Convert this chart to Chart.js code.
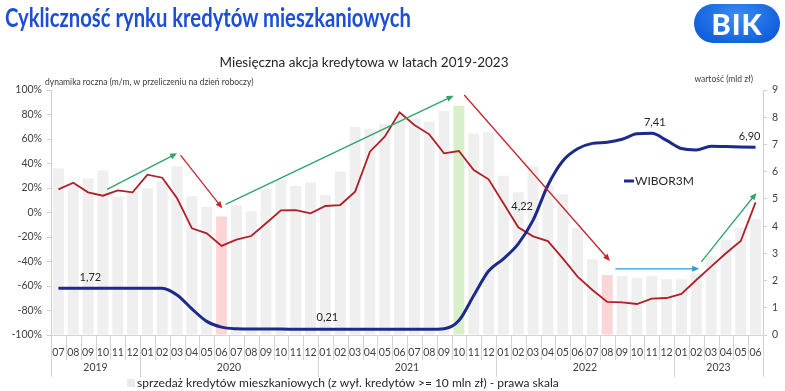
<!DOCTYPE html>
<html>
<head>
<meta charset="utf-8">
<script src="https://cdn.jsdelivr.net/npm/chart.js@4.4.0/dist/chart.umd.min.js"></script>
<style>
  body { margin: 0; background: #fff; width: 785px; height: 391px; overflow: hidden; position: relative; font-family: Lato, sans-serif; }
  #c { position: absolute; left: 0; top: 0; }
  #head { position: absolute; left: 5px; top: 0px; font-weight: bold; font-size: 27px; color: #1c4fd6; white-space: nowrap; transform-origin: 0 0; transform: scaleX(0.75); }
  #logo { position: absolute; left: 694px; top: 4px; width: 86px; height: 39px; border-radius: 20px;
          background: radial-gradient(ellipse at 50% 30%, #3c8cf2 0%, #1463de 70%, #0f55c8 100%);
          color: #fff; font-weight: 900; font-size: 29px; line-height: 39px; text-align: center; letter-spacing: 1px; }
</style>
</head>
<body>
<canvas id="c" width="785" height="391"></canvas>
<div id="head">Cykliczność rynku kredytów mieszkaniowych</div>
<div id="logo">BIK</div>
<script>
// months 2019-07 .. 2023-06
const months = ['07','08','09','10','11','12',
  '01','02','03','04','05','06','07','08','09','10','11','12',
  '01','02','03','04','05','06','07','08','09','10','11','12',
  '01','02','03','04','05','06','07','08','09','10','11','12',
  '01','02','03','04','05','06'];
const years = ['2019','2020','2021','2022','2023'];
const yearSpans = [6, 12, 12, 12, 6];

// sprzedaz kredytow, mld zl (right scale)
const sales = [6.13,5.55,5.76,6.04,5.08,5.27,
  5.39,5.64,6.2,5.1,4.7,4.35,4.77,4.55,5.37,5.7,5.47,5.6,
  5.13,6.0,7.64,7.58,7.75,8.1,7.95,7.83,8.23,8.42,7.4,7.46,
  5.85,5.24,6.2,5.5,5.17,3.92,2.78,2.2,2.17,2.1,2.17,2.05,
  2.05,2.27,2.9,3.5,3.95,4.25];

// dynamika roczna, % (left scale)
const dynamics = [18.9,24.3,16.5,13.7,18.1,16.5,
  30.9,28.4,11.6,-12.9,-17,-27.3,-22.2,-19.2,-8.8,1.8,2,-0.7,
  5.3,6.1,17,49.6,61.9,81.8,71.4,63.8,48.3,50.2,34.7,27.1,
  7.5,-12.1,-19.5,-23.3,-37.4,-52.4,-63.3,-73,-73.3,-74.7,-70.3,-69.8,
  -66.5,-55.1,-44.2,-33.3,-23.3,8.3];

// WIBOR3M, % (right scale)
const wibor = [1.72,1.72,1.72,1.72,1.72,1.72,
  1.72,1.72,1.47,0.96,0.50,0.29,0.23,0.22,0.22,0.22,0.21,0.21,
  0.21,0.21,0.21,0.21,0.21,0.21,0.21,0.21,0.23,0.53,1.45,2.35,
  2.8,3.35,4.22,5.5,6.39,6.84,7.04,7.08,7.19,7.39,7.41,7.15,
  6.85,6.8,6.93,6.92,6.91,6.90];
const wiborLabelIdx = [0, 18, 32, 40, 47];

// trend arrows: [fromIndex, from%, toIndex, to%, colour]
const arrows = [
  [3.28, 18.9, 8.0, 48.3, '#2fa36a'],
  [8.23, 46.9, 11.05, 3.4, '#c3262c'],
  [11.27, 6.7, 26.64, 95.3, '#2fa36a'],
  [27.36, 95.9, 37.18, -39.6, '#c3262c'],
  [37.55, -46.0, 43.2, -46.0, '#2e9be0'],
  [43.34, -40.3, 47.06, 16.0, '#2fa36a']
];

const highlight = {11: '#fcd6d6', 27: '#d9efca', 37: '#fcd6d6'};
const barColors = sales.map((v, i) => highlight[i] || '#efefef');

Chart.defaults.font.family = 'Lato, sans-serif';
Chart.defaults.color = '#404040';

function drawArrow(ctx, x0, y0, x1, y1, color) {
  const a = Math.atan2(y1 - y0, x1 - x0);
  const L = 7, W = 3;
  ctx.save();
  ctx.strokeStyle = color; ctx.fillStyle = color; ctx.lineWidth = 1.3;
  ctx.beginPath();
  ctx.moveTo(x0, y0);
  ctx.lineTo(x1 - Math.cos(a) * L * 0.8, y1 - Math.sin(a) * L * 0.8);
  ctx.stroke();
  ctx.beginPath();
  ctx.moveTo(x1, y1);
  ctx.lineTo(x1 - Math.cos(a) * L - Math.sin(a) * W, y1 - Math.sin(a) * L + Math.cos(a) * W);
  ctx.lineTo(x1 - Math.cos(a) * L + Math.sin(a) * W, y1 - Math.sin(a) * L - Math.cos(a) * W);
  ctx.closePath();
  ctx.fill();
  ctx.restore();
}

const extras = {
  id: 'extras',
  afterDatasetsDraw(chart) {
    const ctx = chart.ctx, x = chart.scales.x, y = chart.scales.y, y2 = chart.scales.y2;
    const area = chart.chartArea;

    arrows.forEach(a => {
      drawArrow(ctx, x.getPixelForValue(a[0]), y.getPixelForValue(a[1]),
        x.getPixelForValue(a[2]), y.getPixelForValue(a[3]), a[4]);
    });

    // wibor value labels
    const offs = {0: [32, -11], 18: [2, -12], 32: [-11, -14], 40: [3, -11], 47: [-6, -11]};
    ctx.save();
    ctx.font = '11px Lato, sans-serif';
    ctx.fillStyle = '#262626';
    ctx.textAlign = 'center'; ctx.textBaseline = 'middle';
    wiborLabelIdx.forEach(i => {
      const px = x.getPixelForValue(i), py = y2.getPixelForValue(wibor[i]);
      ctx.fillText(wibor[i].toFixed(2).replace('.', ','), px + offs[i][0], py + offs[i][1]);
    });
    ctx.restore();

    // separators on category axis
    ctx.save();
    ctx.strokeStyle = '#d4d4d4'; ctx.lineWidth = 1;
    ctx.beginPath();
    ctx.moveTo(area.left, area.bottom + 0.5); ctx.lineTo(area.right, area.bottom + 0.5);
    const yearStarts = [0];
    yearSpans.forEach(s => yearStarts.push(yearStarts[yearStarts.length - 1] + s));
    for (let i = 0; i <= months.length; i++) {
      const px = Math.round(x.getPixelForValue(i - 0.5)) + 0.5;
      const long = yearStarts.includes(i);
      ctx.moveTo(px, area.bottom);
      ctx.lineTo(px, area.bottom + (long ? 42 : 25));
    }
    ctx.stroke();
    ctx.font = '10.5px Lato, sans-serif';
    ctx.fillStyle = '#404040';
    ctx.textAlign = 'center'; ctx.textBaseline = 'middle';
    years.forEach((yr, k) => {
      const mid = x.getPixelForValue((yearStarts[k] + yearStarts[k + 1] - 1) / 2);
      ctx.fillText(yr, mid, area.bottom + 33);
    });
    ctx.restore();
  },
  afterDraw(chart) {
    const ctx = chart.ctx, area = chart.chartArea;
    ctx.save();
    ctx.fillStyle = '#262626';
    ctx.textBaseline = 'middle';
    ctx.font = '13.5px Lato, sans-serif';
    ctx.textAlign = 'center';
    ctx.fillText('Miesięczna akcja kredytowa w latach 2019-2023', 364, 63);
    ctx.font = '8.5px Lato, sans-serif';
    ctx.fillStyle = '#404040';
    ctx.textAlign = 'left';
    ctx.fillText('dynamika roczna (m/m, w przeliczeniu na dzień roboczy)', area.left - 6, 82);
    ctx.textAlign = 'right';
    ctx.fillText('wartość (mld zł)', area.right - 10, 79);

    // legend WIBOR3M
    ctx.strokeStyle = '#1b2a8c'; ctx.lineWidth = 3;
    ctx.beginPath(); ctx.moveTo(624, 181); ctx.lineTo(634, 181); ctx.stroke();
    ctx.font = '12px Lato, sans-serif';
    ctx.fillStyle = '#262626';
    ctx.textAlign = 'left';
    ctx.fillText('WIBOR3M', 635, 181);

    // bottom legend
    ctx.fillStyle = '#eaeaea';
    ctx.fillRect(127, 379, 8, 8);
    ctx.fillStyle = '#262626';
    ctx.font = '12px Lato, sans-serif';
    ctx.fillText('sprzedaż kredytów mieszkaniowych (z wył. kredytów >= 10 mln zł) - prawa skala', 137, 383);
    ctx.restore();
  }
};

new Chart(document.getElementById('c'), {
  type: 'bar',
  data: {
    labels: months,
    datasets: [
      {
        type: 'line', label: 'WIBOR3M', data: wibor, yAxisID: 'y2', order: 1,
        borderColor: '#1b2a8c', borderWidth: 3, pointRadius: 0, tension: 0.35, cubicInterpolationMode: 'monotone'
      },
      {
        type: 'line', label: 'dynamika roczna', data: dynamics, yAxisID: 'y', order: 2,
        borderColor: '#b01f27', borderWidth: 1.8, pointRadius: 0, tension: 0
      },
      {
        type: 'bar', label: 'sprzedaż kredytów mieszkaniowych', data: sales, yAxisID: 'y2', order: 3,
        backgroundColor: barColors, barPercentage: 1, categoryPercentage: 0.74
      }
    ]
  },
  options: {
    responsive: false,
    animation: false,
    layout: { padding: { top: 90, left: 0, right: 0, bottom: 0 } },
    plugins: { legend: { display: false }, tooltip: { enabled: false } },
    scales: {
      x: {
        grid: { display: false, drawTicks: false },
        border: { display: false },
        ticks: { autoSkip: false, maxRotation: 0, padding: 11, font: { size: 10.5 }, color: '#404040' },
        afterFit: s => { s.height = 56; }
      },
      y: {
        position: 'left', min: -100, max: 100,
        grid: { drawOnChartArea: false, tickLength: 4, color: '#cfcfcf' },
        border: { color: '#cfcfcf' },
        ticks: { stepSize: 20, padding: 5, font: { size: 10.5 }, color: '#404040', callback: v => v + '%' },
        afterFit: s => { s.width = 51; }
      },
      y2: {
        position: 'right', min: 0, max: 9,
        grid: { drawOnChartArea: false, tickLength: 4, color: '#cfcfcf' },
        border: { color: '#cfcfcf' },
        ticks: { stepSize: 1, padding: 5, font: { size: 10.5 }, color: '#404040' },
        afterFit: s => { s.width = 22; }
      }
    }
  },
  plugins: [extras]
});
</script>
</body>
</html>
